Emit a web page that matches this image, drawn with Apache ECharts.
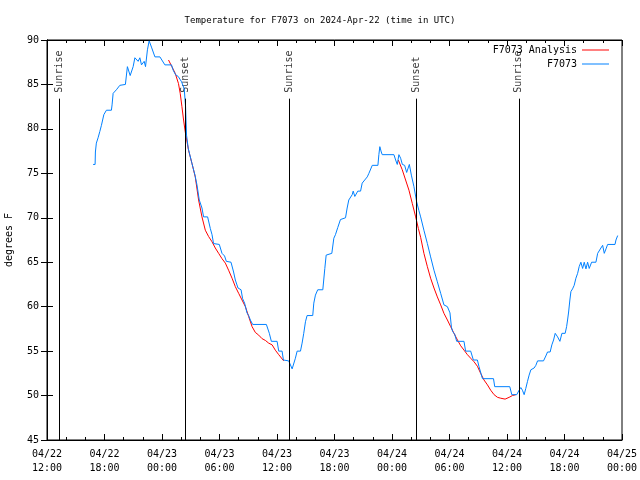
<!DOCTYPE html>
<html>
<head>
<meta charset="utf-8">
<script src="https://cdn.jsdelivr.net/npm/echarts@6/dist/echarts.min.js"></script>
<style>html,body{margin:0;padding:0;background:#fff}#c{width:640px;height:480px}</style>
</head>
<body>
<div id="c"></div>
<script>
// hours after 2024-04-22 12:00 UTC
const xTickLabels = ['04/22\n12:00','04/22\n18:00','04/23\n00:00','04/23\n06:00','04/23\n12:00','04/23\n18:00','04/24\n00:00','04/24\n06:00','04/24\n12:00','04/24\n18:00','04/25\n00:00'];
const yTicks = [45, 50, 55, 60, 65, 70, 75, 80, 85, 90];

const obsHours = [4.81,5.02,5.05,5.15,5.33,5.51,5.68,5.93,6.20,6.72,6.79,6.90,7.24,7.60,8.18,8.39,8.68,8.99,9.17,9.33,9.51,9.69,9.86,10.14,10.28,10.48,10.66,10.90,11.26,11.78,12.30,12.99,13.17,13.41,13.69,14.04,14.32,14.46,14.56,14.74,15.08,15.44,15.65,15.89,16.17,16.34,16.76,17.04,17.22,17.38,17.98,18.26,18.53,18.71,19.20,19.47,19.65,19.93,20.25,20.41,20.62,20.87,21.04,21.22,21.46,22.89,23.20,23.41,24.01,24.18,24.53,24.67,25.22,25.58,25.92,26.10,26.45,26.62,26.79,26.97,27.14,27.73,27.84,28.01,28.25,28.78,28.99,29.13,29.72,29.93,30.10,30.34,30.62,31.15,31.32,31.49,31.85,31.95,32.12,32.26,32.43,32.72,32.89,33.42,33.59,33.94,34.53,34.63,34.73,34.88,34.98,36.20,36.38,36.55,36.72,36.90,37.08,37.32,37.53,37.81,38.02,38.29,38.57,38.81,38.99,39.33,39.69,40.03,40.38,40.73,41.08,41.42,41.78,42.05,42.20,42.33,42.54,42.75,43.51,43.68,44.21,44.49,44.91,45.08,45.44,46.59,46.72,48.29,48.50,49.02,49.26,49.44,49.61,49.79,49.96,50.14,50.31,50.49,50.83,51.01,51.19,51.81,52.05,52.23,52.50,52.68,52.86,53.03,53.28,53.52,53.73,54.07,54.22,54.32,54.43,54.56,54.67,54.84,55.01,55.19,55.37,55.53,55.71,55.89,56.06,56.24,56.41,56.58,56.83,57.28,57.46,57.63,57.80,57.98,58.15,58.33,58.50,59.27,59.37,59.55];
const obsTemps = [76.0,76.0,77.4,78.4,79.0,79.7,80.4,81.6,82.1,82.1,82.7,84.0,84.4,84.9,85.0,87.0,86.0,87.0,88.0,88.1,87.6,88.0,87.2,87.6,87.0,88.9,89.9,89.2,88.1,88.1,87.2,87.2,86.6,86.1,85.9,85.3,84.5,82.5,79.3,77.8,76.3,74.8,73.7,72.0,71.1,70.1,70.1,68.8,68.1,67.1,67.0,66.0,65.7,65.1,65.0,63.9,63.0,62.1,61.9,60.9,60.4,59.3,59.0,58.5,58.0,58.0,57.0,56.1,56.1,55.0,55.0,54.0,53.9,53.0,54.2,55.0,55.0,55.9,57.0,58.3,59.0,59.0,60.4,61.3,61.9,61.9,64.3,65.8,66.0,67.7,68.1,68.9,69.8,70.0,71.1,72.0,72.6,73.0,72.4,72.2,73.0,73.0,73.9,74.6,75.0,75.9,75.9,77.1,78.0,77.4,77.1,77.1,76.5,76.0,77.1,76.7,76.0,75.9,75.1,76.0,74.8,73.5,71.8,70.8,70.1,68.6,67.1,65.6,64.1,62.8,61.5,60.2,60.0,59.3,57.7,57.2,56.9,56.1,56.1,55.0,55.0,54.0,54.0,53.25,51.9,51.9,51.0,51.0,50.1,50.1,50.6,50.9,50.6,50.1,50.8,51.6,52.3,52.9,53.1,53.4,53.9,53.9,54.45,54.9,54.9,55.7,56.25,57.0,56.6,56.1,57.0,57.0,57.75,58.5,59.4,60.75,61.7,62.0,62.4,63.2,63.75,64.5,65.0,64.3,65.0,64.25,65.0,64.3,65.0,65.0,66.0,66.0,66.6,66.9,66.0,66.5,67.0,67.0,67.5,68.0];

const anaHours = [12.68,13.03,13.38,13.72,13.90,14.08,14.25,14.42,14.77,15.13,15.47,15.82,16.17,16.52,16.86,17.22,17.56,17.91,18.26,18.61,18.95,19.31,19.65,20.00,20.35,20.70,21.04,21.40,21.74,22.09,22.44,22.79,23.13,23.49,23.83,24.18,24.70,
  null,
  36.66,37.07,37.42,37.77,38.12,38.47,38.75,38.99,39.33,39.69,40.03,40.38,40.73,41.08,41.42,41.78,42.12,42.47,42.83,43.17,43.52,43.87,44.21,44.56,44.91,45.25,45.60,45.96,46.30,46.65,47.01,47.35,47.80,48.22,48.57,48.92];
const anaTemps = [87.75,87.0,86.25,85.1,84.0,82.5,81.0,79.7,77.6,76.1,74.6,72.0,70.1,68.6,67.9,67.3,66.6,66.0,65.4,64.9,64.1,63.2,62.25,61.5,60.75,60.0,58.9,57.75,57.1,56.8,56.4,56.2,55.9,55.7,55.1,54.6,53.9,
  null,
  76.5,75.4,74.25,73.1,71.6,70.1,68.8,67.8,66.0,64.5,63.2,62.1,61.1,60.2,59.25,58.5,57.75,57.0,56.25,55.6,55.1,54.6,54.2,53.8,53.3,52.5,51.75,51.2,50.6,50.1,49.8,49.7,49.6,49.8,50.0,50.1];

const sunHours = [1.25, 14.42, 25.30, 38.57, 49.23];
const sunLabels = ['Sunrise', 'Sunset', 'Sunrise', 'Sunset', 'Sunrise'];
const sunLineTop = 83.4;

const FONT = 'DejaVu Sans Mono';
const chart = echarts.init(document.getElementById('c'), null, {renderer: 'canvas'});

const obsData = obsHours.map((h, i) => [h, obsTemps[i]]);
const anaData = anaHours.map((h, i) => h === null ? [null, null] : [h, anaTemps[i]]);
const sunData = sunHours.map((h, i) => [h, sunLineTop, sunLabels[i]]);

const hiddenAxis = {show: true, axisLabel: {show: false}, splitLine: {show: false}, axisLine: {show: true, lineStyle: {color: '#000'}}};

chart.setOption({
  animation: false,
  backgroundColor: '#fff',
  textStyle: {fontFamily: FONT, color: '#000'},
  title: {
    text: 'Temperature for F7073 on 2024-Apr-22 (time in UTC)',
    left: 'center', top: 11,
    textStyle: {fontFamily: FONT, fontSize: 9, fontWeight: 'normal', color: '#000'}
  },
  legend: {
    right: 31, top: 44, orient: 'vertical', align: 'right', padding: 0,
    icon: 'rect', itemWidth: 27, itemHeight: 1, itemGap: 2,
    textStyle: {fontFamily: FONT, fontSize: 10, color: '#000', width: 86, align: 'right', lineHeight: 12},
    data: ['F7073 Analysis', 'F7073']
  },
  grid: {left: 47, right: 18, top: 40, bottom: 40, show: true, borderColor: '#000', borderWidth: 1,
    containLabel: false, outerBoundsMode: 'none'},
  xAxis: [{
    type: 'value', min: 0, max: 60, interval: 6, position: 'bottom',
    axisLine: {show: true, lineStyle: {color: '#000'}},
    axisTick: {show: true, inside: true, length: 6, lineStyle: {color: '#000'}},
    minorTick: {show: true, splitNumber: 3, length: 3, lineStyle: {color: '#000'}},
    splitLine: {show: false},
    axisLabel: {fontFamily: FONT, fontSize: 10, color: '#000', lineHeight: 14, margin: 7,
      formatter: v => xTickLabels[Math.round(v / 6)]}
  }, Object.assign({}, hiddenAxis, {
    type: 'value', min: 0, max: 60, interval: 6, position: 'top',
    axisTick: {show: true, inside: true, length: 6, lineStyle: {color: '#000'}},
    minorTick: {show: true, splitNumber: 3, length: 3, lineStyle: {color: '#000'}}
  })],
  yAxis: [{
    type: 'value', min: 45, max: 90, interval: 5, position: 'left',
    name: 'degrees F', nameLocation: 'middle', nameGap: 33, nameRotate: 90,
    nameTextStyle: {fontFamily: FONT, fontSize: 10, color: '#000'},
    axisLine: {show: true, lineStyle: {color: '#000'}},
    axisTick: {show: true, inside: true, length: 6, lineStyle: {color: '#000'}},
    splitLine: {show: false},
    axisLabel: {fontFamily: FONT, fontSize: 10, color: '#000', margin: 8,
      formatter: v => yTicks.indexOf(v) >= 0 ? String(v) : ''}
  }, Object.assign({}, hiddenAxis, {
    type: 'value', min: 45, max: 90, interval: 5, position: 'right',
    axisTick: {show: true, inside: true, length: 6, lineStyle: {color: '#000'}}
  })],
  series: [
    {
      name: 'Sun', type: 'scatter', data: sunData, symbolSize: 0, silent: true,
      itemStyle: {color: 'transparent'},
      label: {show: true, position: 'top', distance: 6, rotate: 90, align: 'left', verticalAlign: 'middle',
        fontFamily: FONT, fontSize: 10, color: '#000', formatter: p => p.value[2]},
      markLine: {
        silent: true, symbol: ['none', 'none'], animation: false,
        lineStyle: {color: '#000', width: 1, type: 'solid'},
        label: {show: false},
        data: sunHours.map(h => [{coord: [h, 45]}, {coord: [h, sunLineTop]}])
      },
      z: 1
    },
    {
      name: 'F7073 Analysis', type: 'line', data: anaData, showSymbol: false, symbol: 'none',
      connectNulls: false, lineStyle: {color: '#ff0000', width: 1}, itemStyle: {color: '#ff0000'}, z: 2
    },
    {
      name: 'F7073', type: 'line', data: obsData, showSymbol: false, symbol: 'none',
      lineStyle: {color: '#0080ff', width: 1}, itemStyle: {color: '#0080ff'}, z: 3
    }
  ]
});
</script>
</body>
</html>
